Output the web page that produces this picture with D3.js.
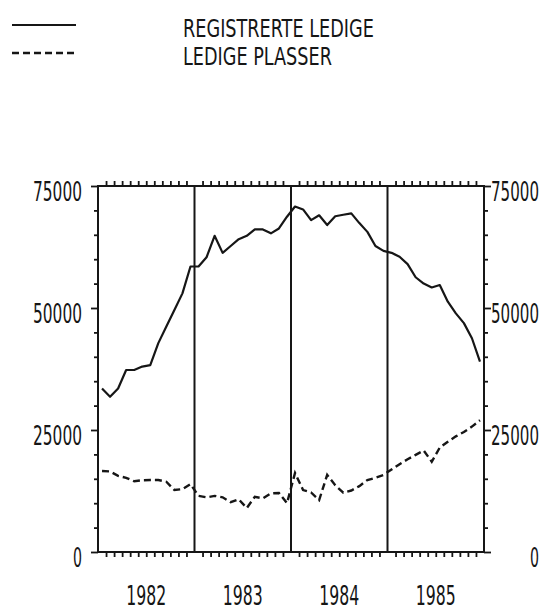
<!DOCTYPE html>
<html>
<head>
<meta charset="utf-8">
<script src="https://cdn.jsdelivr.net/npm/d3@7"></script>
<style>
  body { margin: 0; background: #fff; }
  svg { display: block; background: #fff; }
  text { font-family: "Liberation Sans Narrow", "DejaVu Sans Condensed", "Liberation Sans", sans-serif; font-size: 27px; fill: #161616; }
  text.legend-text { font-size: 25px; }
</style>
</head>
<body>
<svg id="chart"></svg>
<script>
// chart data (monthly, Jan 1982 - Dec 1985)
const years = ["1982", "1983", "1984", "1985"];
const seriesNames = ["REGISTRERTE LEDIGE", "LEDIGE PLASSER"];
const yTickLabels = [0, 25000, 50000, 75000];
const registrerte = [
  33500, 31800, 33500, 37300, 37300, 38000, 38300, 42800, 46200, 49600, 53000, 58500,
  58500, 60400, 64800, 61300, 62700, 64100, 64800, 66100, 66100, 65300, 66300, 68700,
  70800, 70200, 68000, 69000, 67000, 68800, 69100, 69400, 67400, 65600, 62700, 61700,
  61300, 60500, 59000, 56300, 55000, 54200, 54700, 51300, 48900, 46900, 43800, 39000,
];
const plasser = [
  16600, 16500, 15600, 15200, 14500, 14700, 14750, 14750, 14400, 12700, 12900, 13900,
  11500, 11200, 11500, 11200, 10200, 10800, 9000, 11300, 11000, 12000, 12100, 10000,
  16200, 12700, 12200, 10650, 15800, 13700, 12150, 12600, 13500, 14750, 15200, 15800,
  16900, 18000, 19000, 19900, 20800, 18500, 21400, 22600, 23700, 24600, 25700, 27000,
];

// canvas variables
const width = 543;
const height = 610;
const plotLeft = 98;
const plotRight = 484;
const plotTop = 186;
const plotBottom = 552;
const ink = "#161616";

const svg = d3.select("#chart").attr("width", width).attr("height", height);

// scales: x in months since Jan 1982
const xScale = d3.scaleLinear().domain([0, 48]).range([plotLeft, plotRight]);
const yScale = d3.scaleLinear().domain([0, 75000]).range([plotBottom, plotTop]);

const monthTicks = d3.range(1, 48).filter((m) => m % 12 !== 0);
const yTicks = d3.range(0, 75001, 5000);

// condensed plotter-like text: squeeze horizontally to a target width
function label(x, y, anchor, txt, len, cls) {
  const g = svg.append("g");
  const t = g.append("text").attr("text-anchor", anchor).text(txt);
  if (cls) t.attr("class", cls);
  const natural = t.node().getComputedTextLength();
  const sx = len / natural;
  g.attr("transform", `translate(${x}, ${y}) scale(${sx}, 1)`);
  return t;
}

// set bottom / top month ticks
svg
  .append("g")
  .attr("transform", `translate(0, ${plotBottom})`)
  .call(d3.axisBottom(xScale).tickValues(monthTicks).tickSize(5).tickFormat(""))
  .call((g) => g.select(".domain").remove());

svg
  .append("g")
  .attr("transform", `translate(0, ${plotTop})`)
  .call(d3.axisTop(xScale).tickValues(monthTicks).tickSize(5).tickFormat(""))
  .call((g) => g.select(".domain").remove());

// set left / right value ticks
svg
  .append("g")
  .attr("transform", `translate(${plotLeft}, 0)`)
  .call(d3.axisLeft(yScale).tickValues(yTicks).tickSize(4).tickFormat(""))
  .call((g) => g.select(".domain").remove())
  .call((g) =>
    g.selectAll(".tick line").filter((d) => d % 25000 === 0).attr("x2", -7)
  );

svg
  .append("g")
  .attr("transform", `translate(${plotRight}, 0)`)
  .call(d3.axisRight(yScale).tickValues(yTicks).tickSize(4).tickFormat(""))
  .call((g) => g.select(".domain").remove())
  .call((g) =>
    g.selectAll(".tick line").filter((d) => d % 25000 === 0).attr("x2", 7)
  );

svg.selectAll(".tick line").attr("stroke", ink).attr("stroke-width", 1.8);

// frame
svg
  .append("rect")
  .attr("x", xScale(0))
  .attr("y", yScale(75000))
  .attr("width", xScale(48) - xScale(0))
  .attr("height", yScale(0) - yScale(75000))
  .attr("fill", "none")
  .attr("stroke", ink)
  .attr("stroke-width", 2);

// year separators
svg
  .selectAll(".year-line")
  .data([12, 24, 36])
  .enter()
  .append("line")
  .attr("class", "year-line")
  .attr("x1", (d) => xScale(d))
  .attr("x2", (d) => xScale(d))
  .attr("y1", yScale(75000))
  .attr("y2", yScale(0))
  .attr("stroke", ink)
  .attr("stroke-width", 2);

// value labels
yTickLabels.forEach((v) => {
  const s = String(v);
  label(plotLeft - 16, yScale(v) + 15, "end", s, s.length > 1 ? 49 : 9);
  label(width - 4, yScale(v) + 15, "end", s, s.length > 1 ? 48 : 9);
});

// year labels
years.forEach((y, i) => {
  label(xScale(i * 12 + 6), 605, "middle", y, 40);
});

// lines
const line = d3
  .line()
  .x((d, i) => xScale(i + 0.5))
  .y((d) => yScale(d));

svg
  .append("path")
  .datum(registrerte)
  .attr("d", line)
  .attr("fill", "none")
  .attr("stroke", ink)
  .attr("stroke-width", 2.2)
  .attr("stroke-linejoin", "round");

svg
  .append("path")
  .datum(plasser)
  .attr("d", line)
  .attr("fill", "none")
  .attr("stroke", ink)
  .attr("stroke-width", 2.4)
  .attr("stroke-dasharray", "7 4");

// legend
svg
  .append("line")
  .attr("x1", 12)
  .attr("x2", 76)
  .attr("y1", 25)
  .attr("y2", 25)
  .attr("stroke", ink)
  .attr("stroke-width", 2);

svg
  .append("line")
  .attr("x1", 12)
  .attr("x2", 76)
  .attr("y1", 53)
  .attr("y2", 53)
  .attr("stroke", ink)
  .attr("stroke-width", 2.4)
  .attr("stroke-dasharray", "7 4");

label(183, 37, "start", seriesNames[0], 191, "legend-text");
label(183, 65, "start", seriesNames[1], 149, "legend-text");
</script>
</body>
</html>
